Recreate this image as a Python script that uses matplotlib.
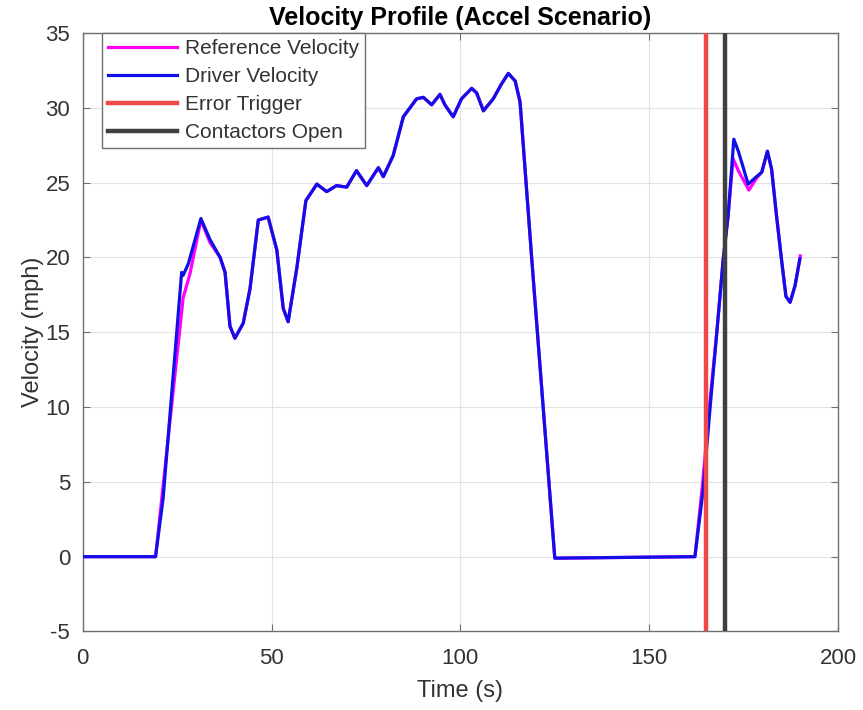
import matplotlib
matplotlib.use("Agg")
import matplotlib.pyplot as plt

# ---- data ----
drv_t = [0, 19.3, 21.3, 26.2, 26.6, 28.0, 31.3, 33.7, 36.4, 37.7, 39.0, 40.3, 42.5, 44.3,
         46.5, 49.1, 51.4, 53.1, 54.4, 56.7, 59.1, 62.0, 64.6, 67.2, 69.9, 72.5, 75.2,
         78.3, 79.6, 82.2, 84.9, 88.4, 90.2, 92.4, 94.6, 95.9, 98.1, 100.3, 103.0, 104.3,
         106.1, 108.7, 110.9, 112.7, 114.5, 115.8, 117.6, 118.9, 125.0, 162.1, 164.3,
         166.1, 167.9, 169.6, 170.9, 172.4, 173.6, 176.2, 178.4, 179.8, 181.3, 182.4,
         183.7, 185.1, 186.2, 187.3, 188.6, 189.9]
drv_v = [0, 0, 3.9, 19.0, 18.8, 19.6, 22.6, 21.2, 20.0, 19.0, 15.4, 14.6, 15.6, 17.9,
         22.5, 22.7, 20.5, 16.6, 15.7, 19.3, 23.8, 24.9, 24.4, 24.8, 24.7, 25.8, 24.8,
         26.0, 25.4, 26.8, 29.4, 30.6, 30.7, 30.2, 30.9, 30.2, 29.4, 30.6, 31.3, 31.0,
         29.8, 30.6, 31.6, 32.3, 31.8, 30.4, 24.3, 19.9, -0.1, 0, 4.5,
         9.9, 15.0, 19.9, 22.8, 27.9, 27.1, 24.9, 25.4, 25.7, 27.1, 25.9,
         22.8, 19.7, 17.4, 17.0, 18.1, 19.9]

ref_t = [0, 19.3, 21.2, 26.6, 28.4, 31.3, 33.7, 36.4, 37.7, 39.0, 40.3, 42.5, 44.3,
         46.5, 49.1, 51.4, 53.1, 54.4, 56.7, 59.1, 62.0, 64.6, 67.2, 69.9, 72.5, 75.2,
         78.3, 79.6, 82.2, 84.9, 88.4, 90.2, 92.4, 94.6, 95.9, 98.1, 100.3, 103.0, 104.3,
         106.1, 108.7, 110.9, 112.7, 114.5, 115.8, 117.6, 118.9, 125.0, 162.1, 164.1,
         166.0, 167.9, 169.6, 170.9, 172.2, 173.6, 176.4, 178.4, 179.8, 181.3, 182.4,
         183.7, 185.1, 186.2, 187.3, 188.6, 190.0]
ref_v = [0, 0, 4.5, 17.3, 18.9, 22.5, 21.0, 20.0, 19.0, 15.4, 14.6, 15.6, 17.9,
         22.5, 22.7, 20.5, 16.6, 15.7, 19.3, 23.8, 24.9, 24.4, 24.8, 24.7, 25.8, 24.8,
         26.0, 25.4, 26.8, 29.4, 30.6, 30.7, 30.2, 30.9, 30.2, 29.4, 30.6, 31.3, 31.0,
         29.8, 30.6, 31.6, 32.3, 31.8, 30.4, 24.3, 19.9, -0.1, 0, 4.8,
         10.2, 15.0, 19.9, 22.8, 26.6, 25.8, 24.5, 25.3, 25.7, 27.1, 25.9,
         22.8, 19.7, 17.4, 17.0, 18.1, 20.1]

error_time = 165.0
contactor_time = 170.0

x_ticks = [0, 50, 100, 150, 200]
y_ticks = [-5, 0, 5, 10, 15, 20, 25, 30, 35]

# ---- style ----
plt.rcParams["font.family"] = ["Liberation Sans", "DejaVu Sans"]
plt.rcParams["axes.unicode_minus"] = False
tick_fs, lab_fs, title_fs, leg_fs = 16, 17, 18, 15

fig = plt.figure(figsize=(8.63, 7.10), dpi=100)
ax = fig.add_axes([0.0958, 0.1106, 0.8753, 0.8429])

ax.plot(ref_t, ref_v, color="#ff00ff", lw=2.3, label="Reference Velocity", zorder=3,
        solid_joinstyle="round")
ax.plot(drv_t, drv_v, color="#1010e6", lw=2.3, label="Driver Velocity", zorder=4,
        solid_joinstyle="round")
ax.axvline(error_time, color="#f04848", lw=3.2, label="Error Trigger", zorder=5)
ax.axvline(contactor_time, color="#404040", lw=3.2, label="Contactors Open", zorder=6)

ax.set_xlim(0, 200)
ax.set_ylim(-5, 35)
ax.set_xticks(x_ticks)
ax.set_yticks(y_ticks)
ax.grid(True, color="#e3e3e3", lw=0.8)
ax.set_axisbelow(True)
for s in ax.spines.values():
    s.set_color("#707070")
    s.set_linewidth(1.0)
ax.tick_params(direction="in", length=5, color="#707070", labelsize=tick_fs,
               labelcolor="#333333", top=True, right=True)
ax.tick_params(axis="x", pad=12)
ax.tick_params(axis="y", pad=9)

ax.set_title("Velocity Profile (Accel Scenario)", fontsize=title_fs, fontweight="bold", pad=6)
ax.set_xlabel("Time (s)", fontsize=lab_fs, color="#333333", labelpad=8)
ax.set_ylabel("Velocity (mph)", fontsize=lab_fs, color="#333333", labelpad=1)

leg = ax.legend(loc="upper left", bbox_to_anchor=(0.025, 1.0), borderaxespad=0,
                fontsize=leg_fs, fancybox=False, framealpha=1, edgecolor="#707070",
                handlelength=3.3, handletextpad=0.4, labelspacing=0.43,
                borderpad=0.3)
leg.get_frame().set_linewidth(1.0)
for t in leg.get_texts():
    t.set_color("#333333")

fig.savefig("out.png", dpi=100)
